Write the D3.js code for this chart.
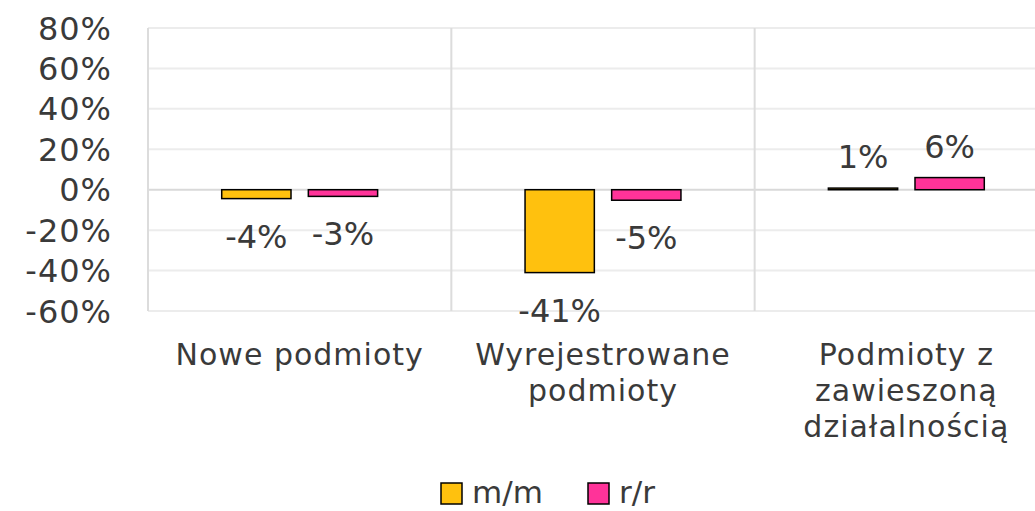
<!DOCTYPE html>
<html>
<head>
<meta charset="utf-8">
<script src="https://cdn.jsdelivr.net/npm/d3@7"></script>
<style>
  body { margin: 0; background: #fff; }
  text { font-family: "DejaVu Sans", sans-serif; fill: #3a3a3a; }
</style>
</head>
<body>
<div id="chart"></div>
<script>
// Data
////////////////////////////////////////////////////////////////////
const categories = [
  ["Nowe podmioty"],
  ["Wyrejestrowane", "podmioty"],
  ["Podmioty z", "zawieszoną", "działalnością"],
];
const seriesNames = ["m/m", "r/r"];
const mmValues = [-4.4, -41, 0.8];
const rrValues = [-3.3, -5.2, 6];
const mmLabels = ["-4%", "-41%", "1%"];
const rrLabels = ["-3%", "-5%", "6%"];
const yTicks = [80, 60, 40, 20, 0, -20, -40, -60];
const colors = ["#FFC10E", "#FF3399"];

// Dimensions
////////////////////////////////////////////////////////////////////
const dimensions = {
  width: 1035,
  height: 511,
  margin: { top: 28, left: 148 },
  ctrWidth: 910,
  ctrHeight: 283,
};

const svg = d3
  .select("#chart")
  .append("svg")
  .attr("width", dimensions.width)
  .attr("height", dimensions.height);

const ctr = svg
  .append("g")
  .attr("transform", `translate(${dimensions.margin.left}, ${dimensions.margin.top})`);

// Scales
////////////////////////////////////////////////////////////////////
const xScale = d3
  .scaleBand()
  .domain(d3.range(categories.length))
  .range([0, dimensions.ctrWidth]);

const yScale = d3.scaleLinear().domain([-60, 80]).range([dimensions.ctrHeight, 0]);

// bars sit in the middle ~half of each category, with a small gap between them
const innerScale = d3
  .scaleBand()
  .domain(seriesNames)
  .range([xScale.bandwidth() * 0.243, xScale.bandwidth() * 0.757])
  .paddingInner(0.2);

// Grid
////////////////////////////////////////////////////////////////////
ctr
  .append("g")
  .selectAll("line")
  .data(yTicks)
  .join("line")
  .attr("x1", 0)
  .attr("x2", dimensions.ctrWidth)
  .attr("y1", (d) => yScale(d))
  .attr("y2", (d) => yScale(d))
  .attr("stroke", (d) => (d === 0 ? "#d9d9d9" : "#ececec"))
  .attr("stroke-width", 2);

ctr
  .append("g")
  .selectAll("line")
  .data(d3.range(categories.length + 1))
  .join("line")
  .attr("x1", (d) => d * xScale.step())
  .attr("x2", (d) => d * xScale.step())
  .attr("y1", 0)
  .attr("y2", dimensions.ctrHeight)
  .attr("stroke", "#dcdcdc")
  .attr("stroke-width", 2);

// Y axis labels
////////////////////////////////////////////////////////////////////
ctr
  .append("g")
  .selectAll("text")
  .data(yTicks)
  .join("text")
  .attr("x", -36)
  .attr("y", (d) => yScale(d))
  .attr("dy", "0.36em")
  .attr("text-anchor", "end")
  .style("font-size", "32px")
  .style("letter-spacing", "1px")
  .text((d) => d + "%");

// Bars
////////////////////////////////////////////////////////////////////
const series = [mmValues, rrValues];
const labels = [mmLabels, rrLabels];

series.forEach((values, s) => {
  const g = ctr.append("g");
  g.selectAll("rect")
    .data(values)
    .join("rect")
    .attr("x", (d, i) => xScale(i) + innerScale(seriesNames[s]))
    .attr("width", innerScale.bandwidth())
    .attr("y", (d) => yScale(Math.max(0, d)))
    .attr("height", (d) => Math.abs(yScale(d) - yScale(0)))
    .attr("fill", colors[s])
    .attr("stroke", "#000")
    .attr("stroke-width", 1.5);

  g.selectAll("text")
    .data(values)
    .join("text")
    .attr("x", (d, i) => xScale(i) + innerScale(seriesNames[s]) + innerScale.bandwidth() / 2)
    .attr("y", (d) => (d < 0 ? yScale(d) + 49 : yScale(d) - 20))
    .attr("text-anchor", "middle")
    .style("font-size", "32px")
    .text((d, i) => labels[s][i]);
});

// Category labels
////////////////////////////////////////////////////////////////////
const catLabels = ctr
  .append("g")
  .selectAll("text")
  .data(categories)
  .join("text")
  .attr("x", (d, i) => xScale(i) + xScale.bandwidth() / 2)
  .attr("y", dimensions.ctrHeight + 54)
  .attr("text-anchor", "middle")
  .style("font-size", "30px")
  .style("letter-spacing", "1px");

catLabels
  .selectAll("tspan")
  .data((d) => d)
  .join("tspan")
  .attr("x", function () {
    return d3.select(this.parentNode).attr("x");
  })
  .attr("dy", (d, i) => (i === 0 ? 0 : 36))
  .text((d) => d);

// Legend
////////////////////////////////////////////////////////////////////
const legendX = [441, 588];
const legend = svg
  .append("g")
  .selectAll("g")
  .data(seriesNames)
  .join("g")
  .attr("transform", (d, i) => `translate(${legendX[i]}, 483)`);

legend
  .append("rect")
  .attr("width", 21)
  .attr("height", 21)
  .attr("fill", (d, i) => colors[i])
  .attr("stroke", "#000")
  .attr("stroke-width", 1.5);

legend
  .append("text")
  .attr("x", 31)
  .attr("y", 20)
  .style("font-size", "31px")
  .text((d) => d);
</script>
</body>
</html>
